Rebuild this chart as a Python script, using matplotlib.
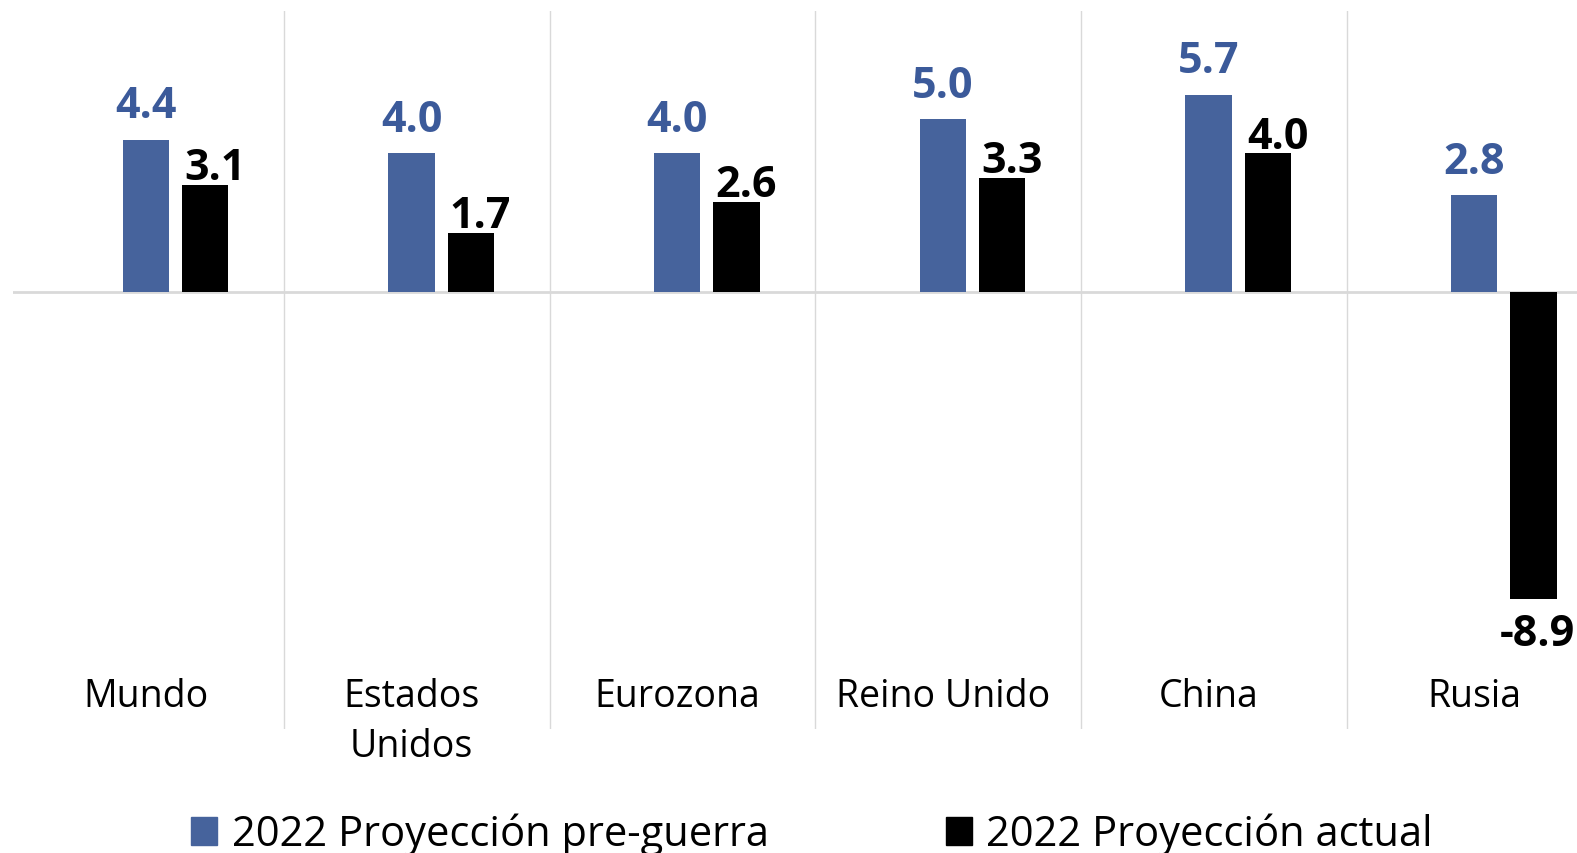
import numpy as np
import matplotlib.pyplot as plt
from matplotlib.patches import Patch

plt.rcParams["font.family"] = ["Open Sans", "DejaVu Sans"]

# Datos (% crecimiento 2022)
categorias = ["Mundo", "Estados\nUnidos", "Eurozona", "Reino Unido", "China", "Rusia"]
pre_guerra = [4.4, 4.0, 4.0, 5.0, 5.7, 2.8]
actual = [3.1, 1.7, 2.6, 3.3, 4.0, -8.9]
series = ["2022 Proyección pre-guerra", "2022 Proyección actual"]

COR_AZUL = "#46639c"
COR_AZUL_TXT = "#3b5a9a"
COR_NEGRO = "#000000"
COR_GRID = "#d9d9d9"

W, H = 1577, 854
fig = plt.figure(figsize=(W / 100, H / 100), dpi=100)
ax = fig.add_axes([13 / W, 1 - 730 / H, 1594 / W, (730 - 12) / H])

x = np.arange(len(categorias))
ancho = 0.174
desp = 0.223

ax.bar(x, pre_guerra, ancho, color=COR_AZUL, zorder=2)
ax.bar(x + desp, actual, ancho, color=COR_NEGRO, zorder=2)

ax.set_xlim(-0.5, 5.5)
ax.set_ylim(-12.65, 8.12)
ax.axhline(0, color=COR_GRID, lw=2, zorder=1)
# separadores entre categorías
for s in x[:-1] + 0.52:
    ax.axvline(s, color=COR_GRID, lw=1, zorder=1)

for xi, v in zip(x, pre_guerra):
    ax.annotate(f"{v:.1f}", (xi, v), xytext=(0, 16), textcoords="offset points",
                ha="center", va="baseline", fontsize=31, fontweight="bold", color=COR_AZUL_TXT)
for xi, v in zip(x + desp, actual):
    if v >= 0:
        ax.annotate(f"{v:.1f}", (xi, v), xytext=(7, 4), textcoords="offset points",
                    ha="center", va="baseline", fontsize=31, fontweight="bold", color=COR_NEGRO)
    else:
        ax.annotate(f"{v:.1f}", (xi, v), xytext=(3, -33), textcoords="offset points",
                    ha="center", va="baseline", fontsize=31, fontweight="bold", color=COR_NEGRO)

for xi, c in zip(x, categorias):
    ax.text(xi, -11.16, c, ha="center", va="top", fontsize=27, linespacing=1.4)

ax.set_xticks([])
ax.set_yticks([])
for sp in ax.spines.values():
    sp.set_visible(False)

handles = [Patch(color=COR_AZUL), Patch(color=COR_NEGRO)]
fig.legend(handles, series, loc="center", bbox_to_anchor=(0.515, 0.022), ncol=2,
           frameon=False, fontsize=30, handlelength=0.62, handleheight=0.65,
           handletextpad=0.35, columnspacing=4.25)

fig.savefig("out.png", dpi=100, facecolor="white")
